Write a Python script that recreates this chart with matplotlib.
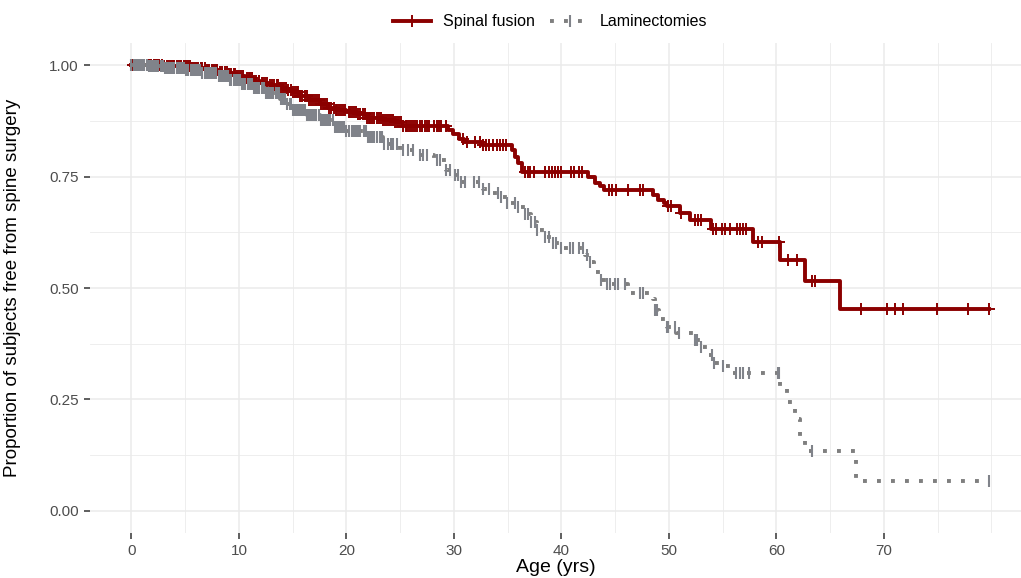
import numpy as np
import matplotlib.pyplot as plt
from matplotlib.lines import Line2D

plt.rcParams['font.family'] = ['Liberation Sans', 'DejaVu Sans']

# Spinal fusion: event times and survival after each event
fus_t = [0, 3.0, 5.5, 7.0, 8.2, 9.0, 9.8, 10.6, 11.3, 12.0, 12.8, 13.8, 14.5, 15.0,
         15.7, 16.5, 17.5, 18.3, 19.0, 20.0, 21.0, 21.9, 23.4, 24.5, 25.3, 29.4,
         29.9, 30.5, 30.9, 32.6, 35.4, 35.7, 36.0, 36.3, 42.5, 43.1, 43.6, 44.0,
         48.5, 49.0, 49.5, 49.8, 51.0, 52.0, 53.9, 57.8, 60.3, 62.7, 65.9, 79.8]
fus_s = [1.0, 0.998, 0.995, 0.99, 0.985, 0.98, 0.977, 0.972, 0.965, 0.96, 0.955, 0.95,
         0.945, 0.94, 0.932, 0.922, 0.912, 0.905, 0.90, 0.895, 0.89, 0.882, 0.877,
         0.872, 0.864, 0.855, 0.845, 0.835, 0.828, 0.82, 0.81, 0.795, 0.78, 0.761,
         0.75, 0.735, 0.728, 0.72, 0.708, 0.697, 0.69, 0.685, 0.669, 0.652, 0.632,
         0.603, 0.563, 0.516, 0.452, 0.452]
fus_cens = [0.1, 0.3, 0.4, 0.6, 0.9, 1.0, 1.2, 1.4, 1.6, 1.8, 2.1, 2.2, 2.4, 2.6, 2.8,
            3.0, 3.3, 3.5, 3.7, 3.9, 4.0, 4.2, 4.4, 4.6, 4.9, 5.1, 5.3, 5.4, 5.6, 5.8,
            6.0, 6.2, 6.5, 6.6, 6.8, 7.0, 7.2, 7.5, 7.7, 7.9, 8.0, 8.2, 8.4, 8.7, 8.9,
            9.1, 9.3, 9.5, 9.6, 9.8, 10.0, 10.2, 10.4, 10.7, 10.9, 11.0, 11.2, 11.4,
            11.6, 11.9, 12.1, 12.2, 12.4, 12.6, 12.9, 13.1, 13.3, 13.5, 13.6, 13.8,
            14.0, 14.2, 14.4, 14.6, 14.8, 15.0, 15.2, 15.4, 15.5, 15.7, 15.9, 16.1,
            16.3, 16.5, 16.7, 16.9, 17.1, 17.3, 17.4, 17.6, 17.8, 18.0, 18.2, 18.4,
            18.6, 18.8, 19.0, 19.1, 19.3, 19.5, 19.7, 19.9, 20.2, 20.3, 20.5, 20.7,
            20.9, 21.1, 21.3, 21.5, 21.7, 21.9, 22.1, 22.2, 22.4, 22.6, 22.8, 23.0,
            23.2, 23.4, 23.6, 23.8, 24.0, 24.1, 24.3, 24.5, 24.7, 24.9, 25.1, 25.3,
            25.5, 25.6, 25.8, 26.0, 26.2, 26.4, 26.6, 26.8, 27.0, 27.3, 27.5, 27.7,
            28.1, 28.4, 28.6, 28.8, 29.3, 30.8, 31.2, 32.0, 32.4, 32.7, 33.0, 33.3,
            33.6, 34.0, 34.3, 34.6, 34.8, 36.6, 36.9, 37.1, 37.4, 38.5, 38.8, 39.1,
            39.4, 39.7, 40.0, 40.9, 41.2, 41.6, 41.9, 44.4, 44.7, 45.1, 46.2, 47.3,
            47.6, 49.9, 50.2, 51.1, 52.4, 52.7, 53.0, 54.1, 54.4, 54.9, 55.2, 55.7,
            56.3, 56.6, 56.9, 57.2, 58.3, 58.7, 60.2, 61.1, 61.9, 63.3, 63.6, 67.9,
            70.3, 71.0, 71.8, 74.9, 77.8, 79.8]

# Laminectomies
lam_t = [0, 1.5, 3.0, 5.1, 6.5, 8.0, 9.2, 10.2, 11.3, 12.5, 13.8, 14.5, 15.0, 16.3,
         17.5, 18.8, 20.0, 21.9, 23.4, 25.0, 26.5, 28.1, 29.3, 29.9, 30.6, 32.7,
         33.5, 34.3, 34.9, 35.8, 36.6, 37.2, 37.7, 38.5, 39.2, 40.0, 42.2, 42.7,
         43.0, 43.7, 44.2, 46.2, 48.5, 48.7, 49.1, 49.8, 50.7, 52.4, 53.0, 53.5,
         54.1, 55.0, 55.9, 60.3, 61.0, 61.7, 62.2, 62.7, 67.4, 79.8]
lam_s = [1.0, 0.998, 0.993, 0.989, 0.982, 0.975, 0.966, 0.958, 0.948, 0.937, 0.925,
         0.912, 0.90, 0.888, 0.877, 0.862, 0.852, 0.838, 0.823, 0.81, 0.798, 0.787,
         0.766, 0.753, 0.737, 0.723, 0.714, 0.705, 0.691, 0.682, 0.667, 0.649, 0.63,
         0.614, 0.60, 0.589, 0.574, 0.559, 0.537, 0.519, 0.51, 0.488, 0.475, 0.451,
         0.43, 0.413, 0.40, 0.383, 0.367, 0.35, 0.331, 0.324, 0.31, 0.28, 0.245,
         0.205, 0.165, 0.134, 0.067, 0.067]
lam_cens = [0.0, 0.2, 0.3, 0.5, 0.7, 0.9, 1.0, 1.2, 1.4, 1.6, 1.8, 2.0, 2.2, 2.3, 2.5,
            2.7, 2.9, 3.1, 3.3, 3.4, 3.6, 3.8, 4.0, 4.2, 4.4, 4.5, 4.7, 4.9, 5.1, 5.3,
            5.5, 5.6, 5.8, 6.0, 6.2, 6.4, 6.6, 6.8, 7.0, 7.1, 7.3, 7.5, 7.7, 7.9, 8.1,
            8.2, 8.4, 8.6, 8.8, 9.0, 9.2, 9.3, 9.5, 9.7, 9.9, 10.1, 10.3, 10.4, 10.6,
            10.8, 11.0, 11.2, 11.4, 11.5, 11.7, 11.9, 12.1, 12.3, 12.5, 12.6, 12.8,
            13.0, 13.2, 13.4, 13.6, 13.7, 13.9, 14.1, 14.3, 14.5, 14.7, 14.8, 15.0,
            15.2, 15.4, 15.6, 15.8, 16.0, 16.1, 16.3, 16.5, 16.7, 16.9, 17.1, 17.2,
            17.4, 17.6, 17.8, 18.0, 18.2, 18.3, 18.5, 18.7, 18.9, 19.1, 19.3, 19.4,
            19.6, 19.8, 20.0, 20.2, 20.5, 20.7, 20.9, 21.1, 21.3, 21.6, 21.8, 22.0,
            22.2, 22.4, 22.6, 22.8, 23.1, 23.3, 23.5, 23.9, 24.1, 24.3, 24.7, 25.3,
            25.7, 26.2, 26.8, 27.1, 27.5, 28.4, 28.7, 29.3, 29.6, 30.1, 30.4, 30.7,
            31.0, 31.9, 32.3, 32.7, 33.3, 34.1, 34.4, 34.9, 35.7, 36.0, 36.6, 36.9,
            37.2, 37.5, 37.7, 38.5, 38.8, 39.2, 39.5, 40.0, 40.8, 41.1, 41.6, 42.0,
            42.4, 42.7, 43.7, 44.2, 44.5, 45.0, 45.3, 45.9, 47.3, 47.6, 48.7, 48.9,
            49.8, 49.9, 50.6, 50.9, 52.4, 52.6, 53.0, 54.0, 54.2, 55.0, 56.2, 56.6,
            56.9, 57.4, 60.1, 60.2, 63.3, 79.8]

groups = ['Spinal fusion', 'Laminectomies']
colors = ['#8B0000', '#7F7F7F']
cens_gray = '#80838a'


def surv_at(times, surv, pts):
    idx = np.searchsorted(times, pts, side='right') - 1
    return np.asarray(surv)[idx]


fig = plt.figure(figsize=(10.21, 5.78), dpi=100)
ax = fig.add_axes([90 / 1021, 45 / 578, 931 / 1021, 490 / 578])

ax.step(fus_t, fus_s, where='post', color=colors[0], lw=2.8, zorder=3)
ax.plot(fus_cens, surv_at(fus_t, fus_s, fus_cens), ls='none', marker='+',
        ms=8, mew=1.4, color=colors[0], zorder=3)
ax.step(lam_t, lam_s, where='post', color=colors[1], lw=2.8,
        ls=(0, (1, 2.6)), zorder=4)
ax.plot(lam_cens, surv_at(lam_t, lam_s, lam_cens), ls='none', marker='|',
        ms=8, mew=1.5, color=cens_gray, zorder=4)

ax.set_xlim(-3.86, 82.75)
ax.set_ylim(-0.05, 1.05)
ax.set_xticks(np.arange(0, 80, 10))
ax.set_xticks([5, 15, 25, 35, 45, 55, 65, 75, 80], minor=True)
ax.set_yticks([0, 0.25, 0.5, 0.75, 1.0])
ax.set_yticks([0.125, 0.375, 0.625, 0.875], minor=True)
ax.set_yticklabels(['0.00', '0.25', '0.50', '0.75', '1.00'])
ax.grid(which='major', color='#EBEBEB', lw=1.1)
ax.grid(which='minor', color='#EBEBEB', lw=0.6)
ax.set_axisbelow(True)
for sp in ax.spines.values():
    sp.set_visible(False)
ax.tick_params(which='major', colors='#333333', length=4, width=1.1,
               labelsize=11, labelcolor='#4D4D4D', pad=4)
ax.tick_params(which='minor', length=0)

ax.set_xlabel('Age (yrs)', fontsize=14, labelpad=1)
ax.set_ylabel('Proportion of subjects free from spine surgery', fontsize=13.5)
ax.yaxis.set_label_coords(-0.074, 0.5)

handles = [
    Line2D([], [], color=colors[0], lw=2.8, marker='+', ms=8, mew=1.4),
    Line2D([], [], color=colors[1], lw=2.8, ls=(0, (1, 2.6)), marker='|',
           ms=8, mew=1.5, markeredgecolor=cens_gray),
]
fig.legend(handles, groups, loc='upper center', bbox_to_anchor=(0.539, 1.0),
           ncol=2, frameon=False, fontsize=11.5, handlelength=2.4,
           columnspacing=1.0, handletextpad=0.7)

plt.savefig('out.png', dpi=100)
